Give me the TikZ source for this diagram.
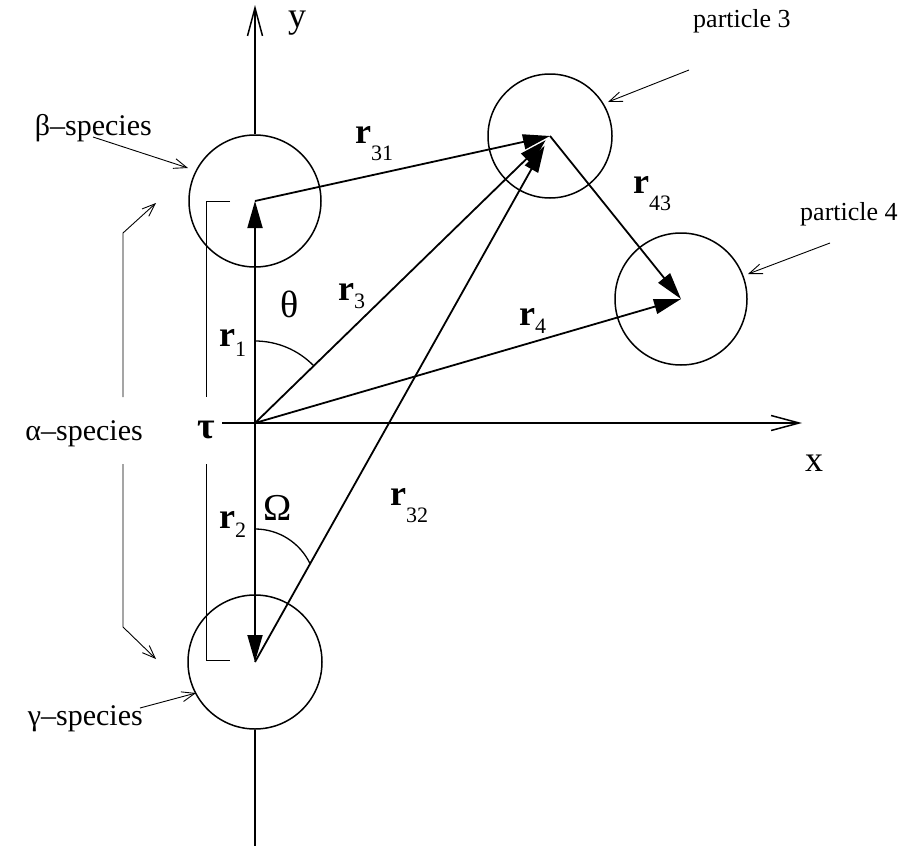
\documentclass[tikz,border=0pt]{standalone}
\usepackage{fontspec}
\setmainfont{Liberation Serif}
\usetikzlibrary{arrows.meta,calc}
\newcommand{\rlab}[2]{\textbf{r}\raisebox{-#2pt}{\fontsize{22}{26}\selectfont #1}}
\begin{document}
\begin{tikzpicture}[x=1pt,y=1pt,
  vec/.style={line width=1.8pt,-{Triangle[length=27pt,width=15pt]}},
  axisline/.style={line width=1.5pt},
  axisarrow/.style={line width=1.5pt,-{Straight Barb[length=28pt,width=15pt]}},
  thinline/.style={line width=0.9pt},
  lblarrow/.style={line width=0.9pt,-{Straight Barb[length=13pt,width=10pt]}},
  anglearc/.style={line width=1.3pt},
  ball/.style={circle,draw,line width=1.5pt,inner sep=0pt},
  bigtxt/.style={font=\fontsize{36}{40}\selectfont,inner sep=0pt},
  greek/.style={font=\fontsize{38}{42}\selectfont,inner sep=0pt},
  vlab/.style={font=\fontsize{36}{40}\selectfont,inner sep=0pt,anchor=base west},
  spec/.style={font=\fontsize{30}{36}\selectfont,inner sep=0pt,anchor=base east},
  part/.style={font=\fontsize{26}{30}\selectfont,inner sep=0pt,anchor=base west}
]
\useasboundingbox (0,0) rectangle (921,-854);

% balls
\node[ball,minimum size=132pt] (beta) at (255,-201) {};
\node[ball,minimum size=134pt] (gamma) at (255,-662) {};
\node[ball,minimum size=124pt] (p3) at (550,-136) {};
\node[ball,minimum size=132pt] (p4) at (681,-299) {};

% axes
\coordinate (O) at (255,-423);
\coordinate (ytop) at (255,-5);
\coordinate (ybot) at (255,-846);
\coordinate (xl) at (222,-423);
\coordinate (xr) at (802,-423);
\draw[axisarrow] (beta.north) -- (ytop);
\draw[axisline] (gamma.south) -- (ybot);
\draw[axisarrow] (xl) -- (xr);

% vectors
\draw[vec] (O) -- (beta.center);
\draw[vec] (O) -- (gamma.center);
\draw[vec] (beta.center) -- (p3.center);
\draw[vec] (O) -- ($(p3.center)!6pt!(O)$);
\draw[vec] (gamma.center) -- ($(p3.center)!11pt!(gamma.center)$);
\draw[vec] (O) -- (p4.center);
\draw[vec] (p3.center) -- (p4.center);

% angle arcs
\draw[anglearc] ($(O)+(0,82)$) arc[start angle=90,end angle=44.2,radius=82];
\draw[anglearc] ($(gamma.center)+(0,133)$) arc[start angle=90,end angle=25,radius=61];

% alpha bracket
\coordinate (ia) at (230,-201);
\coordinate (ib) at (206,-201);
\coordinate (ic) at (206,-397);
\coordinate (id) at (206,-464);
\coordinate (ie) at (206,-660);
\coordinate (if) at (230,-660);
\draw[thinline] (ia) -- (ib) -- (ic);
\draw[thinline] (id) -- (ie) -- (if);
\coordinate (oa) at (156,-203);
\coordinate (ob) at (123,-233);
\coordinate (oc) at (123,-397);
\coordinate (od) at (123,-464);
\coordinate (oe) at (123,-627);
\coordinate (of) at (156,-659);
\draw[lblarrow] (oc) -- (ob) -- (oa);
\draw[lblarrow] (od) -- (oe) -- (of);

% label arrows
\coordinate (bs) at (93,-137);
\coordinate (be) at (188,-168);
\draw[lblarrow] (bs) -- (be);
\coordinate (gs) at (140,-708);
\coordinate (ge) at (196,-693);
\draw[lblarrow] (gs) -- (ge);
\coordinate (p3s) at (689,-70);
\coordinate (p3e) at (608,-102);
\draw[lblarrow] (p3s) -- (p3e);
\coordinate (p4s) at (830,-243);
\coordinate (p4e) at (748,-274);
\draw[lblarrow] (p4s) -- (p4e);

% texts
\node[bigtxt] (ylab) at (297,-23) {y};
\node[bigtxt] (xlab) at (814,-463) {x};
\node[greek] (tau) at (206,-430) {\bfseries τ};
\node[greek] (theta) at (290,-304) {θ};
\node[greek] (omega) at (278,-508) {Ω};

\node[spec] (betalab) at (152,-135) {β–species};
\node[spec] (alphalab) at (143,-440) {α–species};
\node[spec] (gammalab) at (143,-725) {γ–species};
\node[part] (p3lab) at (693,-27) {particle 3};
\node[part] (p4lab) at (800,-220) {particle 4};

\node[vlab] (r1) at (219,-346) {\rlab{1}{10}};
\node[vlab] (r2) at (219,-528) {\rlab{2}{9}};
\node[vlab] (r3) at (338,-300) {\rlab{3}{8}};
\node[vlab] (r31) at (355,-143) {\rlab{31}{17}};
\node[vlab] (r32) at (390,-505) {\rlab{32}{17}};
\node[vlab] (r4) at (519,-325) {\rlab{4}{8}};
\node[vlab] (r43) at (633,-193) {\rlab{43}{17}};
\end{tikzpicture}
\end{document}
